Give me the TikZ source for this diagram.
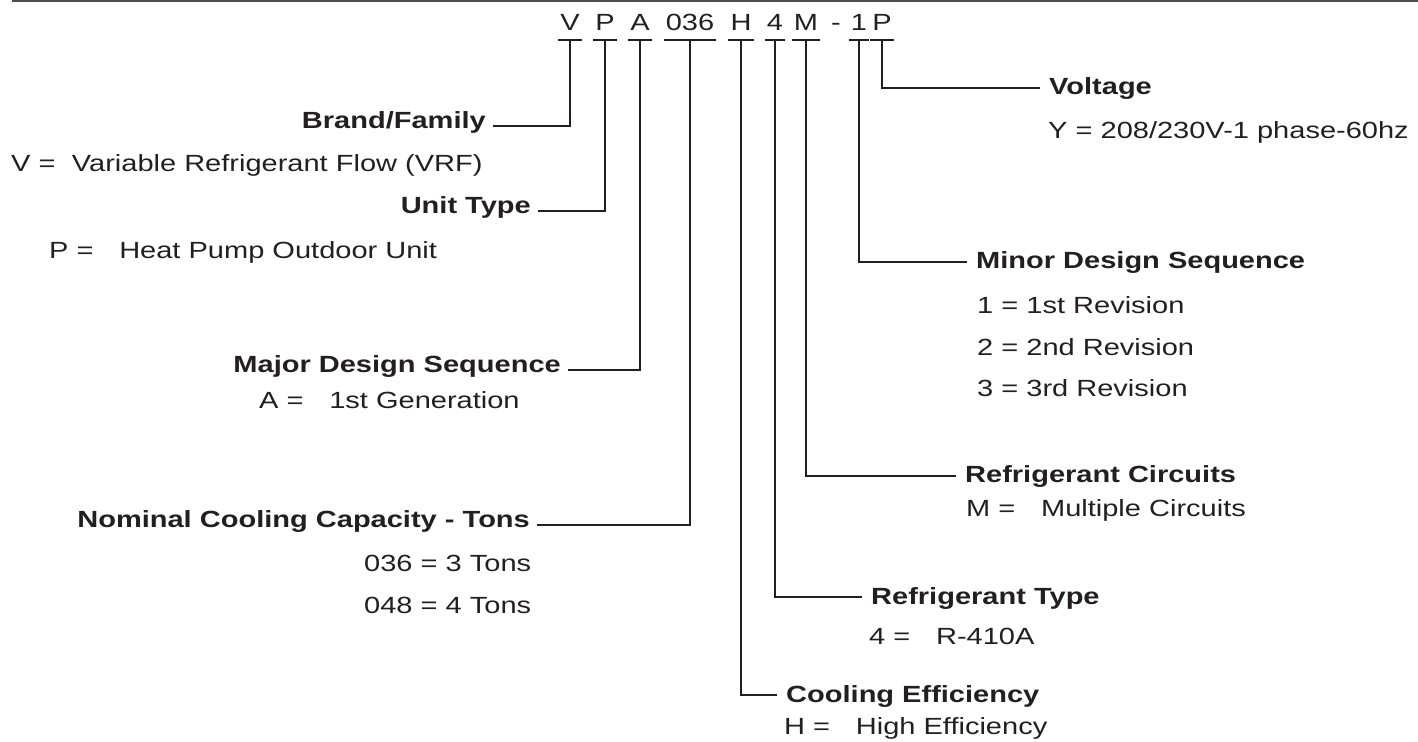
\documentclass[tikz,border=0pt]{standalone}
\usepackage{fontspec}
\setmainfont{Liberation Sans}[FakeStretch = 1.24]
\usepackage{tikz}
\usetikzlibrary{positioning}
\definecolor{ink}{HTML}{231F20}
\definecolor{rulegray}{HTML}{4D4D4D}

\begin{document}
\begin{tikzpicture}
    [
        x = 0.5pt, y = -0.5pt, color = ink, line width = 1.2pt,
        every node/.style = {font = \fontsize{11.7}{14}\selectfont},
        code/.style  = {anchor = base, inner xsep = 0.5pt, inner ysep = 4pt, text depth = 0pt},
        headL/.style = {anchor = base east, inner sep = 3pt, font = \fontsize{11.7}{14}\selectfont\bfseries},
        headR/.style = {anchor = base west, inner sep = 4pt, font = \fontsize{11.7}{14}\selectfont\bfseries},
        desc/.style  = {anchor = base west, inner sep = 0pt}
    ]
    \useasboundingbox (0,0) rectangle (1418,742);

    % Draw the rule on top:
    \draw [rulegray, line width = 0.85pt] (12,0.9) -- (1418,0.9);

    % Draw the model number:
    \foreach \name/\xpos/\txt in {cV/570/V, cP/605/P, cA/640/A, cCap/690/036, cH/741/H, cRef/775/4, cM/806/M, cRev/859/1, cVolt/882/P}
        \node [code] (\name) at (\xpos,31) {\txt};
    \node [code] (cDash) at (836,31) {-};
    \foreach \name in {cV, cP, cA, cCap, cH, cRef, cM, cRev, cVolt}
        \draw (\name.south west) -- (\name.south east);

    % Draw the headings on the left:
    \node [headL] (brand)   at (493,129) {Brand/Family};
    \node [headL] (unit)    at (538,214) {Unit Type};
    \node [headL] (major)   at (568,373) {Major Design Sequence};
    \node [headL] (nominal) at (537,528) {Nominal Cooling Capacity - Tons};

    % Draw the headings on the right:
    \node [headR] (volt)     at (1040,95)  {Voltage};
    \node [headR] (minor)    at (967,269)  {Minor Design Sequence};
    \node [headR] (circuits) at (956,483)  {Refrigerant Circuits};
    \node [headR] (reftype)  at (862,604)  {Refrigerant Type};
    \node [headR] (cooleff)  at (777,702)  {Cooling Efficiency};

    % Draw the values:
    \node [desc] (vrf)   at (10,171.5)   {V =\hspace{0.7em}Variable Refrigerant Flow (VRF)};
    \node [desc] (hp)    at (48,258.5)   {P =\hspace{1.1em}Heat Pump Outdoor Unit};
    \node [desc] (gen)   at (258,408.5)  {A =\hspace{1.1em}1st Generation};
    \node [desc] (tons3) at (363,571.5)  {036 = 3 Tons};
    \node [desc] (tons4) at (363,613.5)  {048 = 4 Tons};
    \node [desc] (phase) at (1047,138.5) {Y = 208/230V-1 phase-60hz};
    \node [desc] (rev1)  at (976,313.5)  {1 = 1st Revision};
    \node [desc] (rev2)  at (976,355.5)  {2 = 2nd Revision};
    \node [desc] (rev3)  at (976,396.5)  {3 = 3rd Revision};
    \node [desc] (multi) at (965,516.5)  {M =\hspace{1.1em}Multiple Circuits};
    \node [desc] (r410)  at (868,644.5)  {4 =\hspace{1.1em}R-410A};
    \node [desc] (high)  at (783,734.5)  {H =\hspace{1.1em}High Efficiency};

    % Draw the connectors:
    \draw (cV.south)    |- ([yshift = 1.5pt]brand.base east);
    \draw (cP.south)    |- ([yshift = 1.5pt]unit.base east);
    \draw (cA.south)    |- ([yshift = 1.5pt]major.base east);
    \draw (cCap.south)  |- ([yshift = 1.5pt]nominal.base east);
    \draw (cVolt.south) |- ([yshift = 3.5pt]volt.base west);
    \draw (cRev.south)  |- ([yshift = 3.5pt]minor.base west);
    \draw (cM.south)    |- ([yshift = 3.5pt]circuits.base west);
    \draw (cRef.south)  |- ([yshift = 3.5pt]reftype.base west);
    \draw (cH.south)    |- ([yshift = 3.5pt]cooleff.base west);
\end{tikzpicture}
\end{document}
